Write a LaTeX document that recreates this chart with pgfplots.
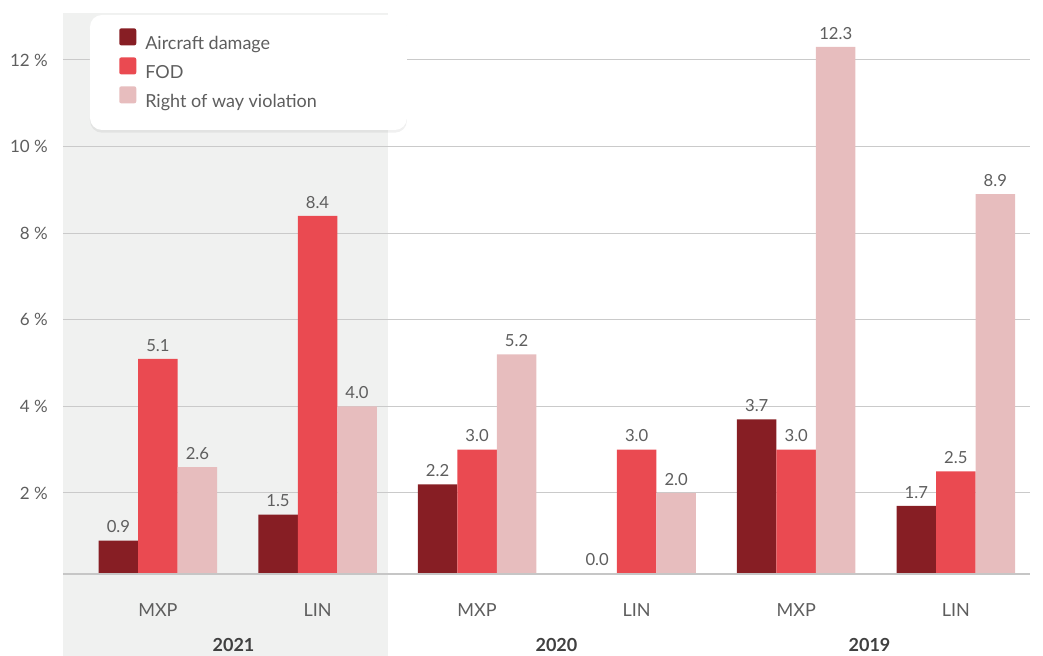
\documentclass[border=0pt]{standalone}
\usepackage{pgfplots}
\usepackage{pgfplotstable}
\pgfplotsset{compat=1.18}
\usepackage{fontspec}
\setmainfont{Lato}
\usetikzlibrary{shadows}

\definecolor{dmg}{HTML}{871E24}
\definecolor{fod}{HTML}{EA4A51}
\definecolor{rowv}{HTML}{E7BDBE}
\definecolor{band}{HTML}{F0F1F0}
\definecolor{gridc}{HTML}{CACACA}
\definecolor{txt}{HTML}{5E5E5E}

\pgfplotstableread{
x dmg fod rowv
0 0.9 5.1 2.6
1 1.5 8.4 4.0
2 2.2 3.0 5.2
3 0.0 3.0 2.0
4 3.7 3.0 12.3
5 1.7 2.5 8.9
}\data

% square legend markers instead of the default bar pair
\pgfplotsset{/pgfplots/ybar legend/.style={
  legend image code/.code={\fill[##1, rounded corners=1.5pt] (0pt,-1.2pt) rectangle (12.75pt,11.55pt);}}}

\begin{document}
\begin{tikzpicture}
\useasboundingbox (-47.25pt,-57.3pt) rectangle (735pt,434.7pt);
% shaded 2021 block
\fill[band] (0pt,-57.3pt) rectangle (243.75pt,424.95pt);

\begin{axis}[
  scale only axis, width=725.25pt, height=424.95pt,
  xmin=-0.595, xmax=5.465, ymin=0, ymax=13.085,
  ybar=0pt, bar width=0.2475,
  axis line style={draw=none}, major tick length=0pt,
  ymajorgrids, grid style={gridc, line width=0.75pt},
  ytick={2,4,...,12},
  yticklabel={\pgfmathprintnumber{\tick} \%},
  yticklabel style={anchor=east, inner sep=0pt, xshift=-11.25pt,
    font=\fontsize{12.75}{15}\selectfont, text=txt},
  xtick={0,...,5}, xticklabels={MXP,LIN,MXP,LIN,MXP,LIN},
  xticklabel style={anchor=base, inner sep=0pt, yshift=-27.7pt,
    font=\fontsize{13.5}{16}\selectfont, text=txt},
  /pgf/number format/assume math mode=true,
  visualization depends on={y \as \rawy},
  nodes near coords={\pgfmathprintnumber[fixed,zerofill,precision=1]{\pgfplotspointmeta}},
  every node near coord/.append style={anchor=base, inner sep=0pt,
    yshift={5.8pt+ifthenelse(\rawy<0.05,4.4pt,0pt)},
    font=\fontsize{12.5}{14}\selectfont, text=txt},
  legend style={at={(0.0579,0.9733)}, anchor=north west, draw=none, fill=none,
    inner sep=0pt, row sep=4.5pt, column sep=6.75pt,
    font=\fontsize{13.5}{16}\selectfont, text=txt, nodes={inner sep=0pt}},
  legend cell align=left,
]
\addplot[fill=dmg, draw=none] table[x=x, y=dmg]{\data};
\addplot[fill=fod, draw=none] table[x=x, y=fod]{\data};
\addplot[fill=rowv, draw=none] table[x=x, y=rowv]{\data};
\legend{Aircraft damage, FOD, Right of way violation}

% bars sit on a baseline slightly above zero: hide the strip below it
\fill[white] (rel axis cs:0,0) rectangle (rel axis cs:1,0.00993);
\fill[band] (axis cs:-0.595,0) rectangle (axis cs:1.441,0.13);
\draw[color=gray!45, line width=1.2pt] (rel axis cs:0,0.00993) -- (rel axis cs:1,0.00993);
\fill[white, rounded corners=9pt,
  drop shadow={shadow xshift=0pt, shadow yshift=-2pt, opacity=0.12}]
  (rel axis cs:0.0279,0.7935) rectangle (rel axis cs:0.3557,0.9965);
\end{axis}

\node[anchor=base, font=\bfseries\fontsize{13.5}{16}\selectfont, text=black!75] at (127.9pt,-54.3pt) {2021};
\node[anchor=base, font=\bfseries\fontsize{13.5}{16}\selectfont, text=black!75] at (370.1pt,-54.3pt) {2020};
\node[anchor=base, font=\bfseries\fontsize{13.5}{16}\selectfont, text=black!75] at (604.9pt,-54.3pt) {2019};
\end{tikzpicture}
\end{document}
